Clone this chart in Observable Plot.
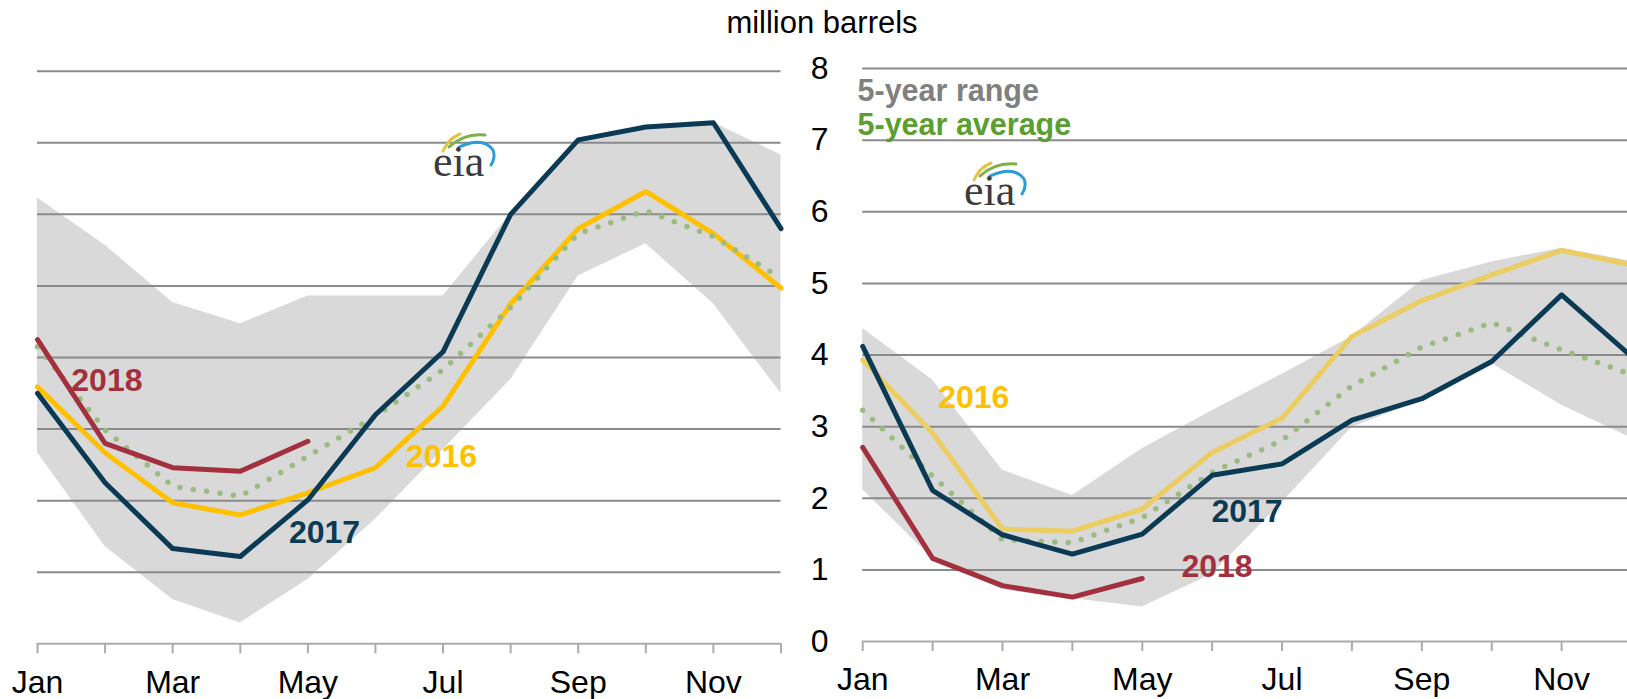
<!DOCTYPE html>
<html><head><meta charset="utf-8">
<script src="https://cdn.jsdelivr.net/npm/d3@7"></script>
<script src="https://cdn.jsdelivr.net/npm/@observablehq/plot@0.6"></script>
<style>
html,body{margin:0;padding:0;background:#fff;overflow:hidden;}
#root{position:relative;width:1627px;height:699px;overflow:hidden;font-family:"Liberation Sans",Arial,sans-serif;}
.abs{position:absolute;}
#unit{position:absolute;left:722px;width:200px;top:7px;text-align:center;font-size:31px;line-height:31px;color:#000;white-space:nowrap;}
</style></head><body><div id="root"><div id="unit">million barrels</div></div>
<script>
// ---- data ----
const months = ["Jan","Feb","Mar","Apr","May","Jun","Jul","Aug","Sep","Oct","Nov","Dec"];
const yTicks = [0,1,2,3,4,5,6,7,8];
const gridValues = [1,2,3,4,5,6,7,8];

// left panel
const left2016 = [3.59, 2.67, 1.97, 1.80, 2.11, 2.46, 3.32, 4.75, 5.80, 6.32, 5.73, 4.97];
const left2017 = [3.50, 2.25, 1.33, 1.22, 2.01, 3.20, 4.08, 6.00, 7.04, 7.22, 7.28, 5.80];
const left2018 = [4.25, 2.80, 2.46, 2.41, 2.83];
const leftAvg  = [4.15, 2.99, 2.20, 2.06, 2.62, 3.18, 3.83, 4.70, 5.73, 6.05, 5.69, 5.11];
const leftMax  = [6.23, 5.57, 4.77, 4.47, 4.86, 4.86, 4.86, 6.01, 7.04, 7.22, 7.28, 6.83];
const leftMin  = [2.67, 1.36, 0.62, 0.29, 0.90, 1.74, 2.71, 3.69, 5.14, 5.59, 4.75, 3.50];

// right panel
const right2016 = [3.93, 2.91, 1.57, 1.54, 1.85, 2.64, 3.12, 4.26, 4.76, 5.12, 5.46, 5.26];
const right2017 = [4.12, 2.11, 1.49, 1.22, 1.50, 2.32, 2.48, 3.09, 3.39, 3.91, 4.84, 3.98];
const right2018 = [2.71, 1.16, 0.78, 0.62, 0.88];
const rightAvg  = [3.23, 2.31, 1.42, 1.38, 1.73, 2.36, 2.81, 3.57, 4.11, 4.45, 4.07, 3.73];
const rightMax  = [4.37, 3.65, 2.39, 2.04, 2.69, 3.22, 3.73, 4.26, 5.04, 5.30, 5.49, 5.31];
const rightMin  = [2.12, 1.16, 0.72, 0.60, 0.48, 0.94, 1.94, 2.99, 3.36, 3.88, 3.30, 2.84];

// annotation labels (month index, value)
const leftLabels = [
  {m: 0.50, v: 3.68, text: "2018", color: "#a3303e"},
  {m: 5.45, v: 2.62, text: "2016", color: "#ffc000"},
  {m: 3.72, v: 1.55, text: "2017", color: "#0b3a55"}
];
const rightLabels = [
  {m: 1.08, v: 3.41, text: "2016", color: "#ffc000"},
  {m: 4.99, v: 1.81, text: "2017", color: "#0b3a55"},
  {m: 4.56, v: 1.04, text: "2018", color: "#a3303e"}
];
const legendLabels = [
  {m: -0.074, v: 7.68, text: "5-year range", color: "#808080"},
  {m: -0.074, v: 7.21, text: "5-year average", color: "#5c9e31"}
];

// ---- drawing ----
const C = {navy:"#0b3a55", gold:"#ffc000", goldLight:"#ebcd62", red:"#a3303e", avg:"#9cbb80",
           range:"#d9d9d9", grid:"#8a8a8a", axis:"#ababab"};
const rows = vals => vals.map((v, i) => ({m: i, v}));
const rangeRows = (lo, hi) => lo.map((l, i) => ({m: i, lo: l, hi: hi[i]}));

function panel({width, xRange, yRange, marginLeft, lo, hi, avg, s16, s17, s18, gold16, labels, legend, showY}) {
  const marks = [
    Plot.areaY(rangeRows(lo, hi), {x: "m", y1: "lo", y2: "hi", fill: C.range}),
    Plot.ruleY(gridValues, {y: d => d, x1: 0, x2: 11, stroke: C.grid, strokeWidth: 2}),
    Plot.ruleY([0], {y: d => d, x1: 0, x2: 11, stroke: C.axis, strokeWidth: 2}),
    Plot.axisX(d3.range(12), {anchor: "bottom", tickSize: 10, tickPadding: 16, stroke: C.axis, strokeWidth: 2,
      fill: "#000", fontSize: 32, tickFormat: i => (i % 2 === 0 ? months[i] : ""), label: null}),
    Plot.line(rows(s16), {x: "m", y: "v", stroke: gold16, strokeWidth: 5}),
    Plot.line(rows(avg), {x: "m", y: "v", stroke: C.avg, strokeWidth: 5.5, strokeDasharray: "0 13.5", strokeLinecap: "round"}),
    Plot.line(rows(s17), {x: "m", y: "v", stroke: C.navy, strokeWidth: 5}),
    Plot.line(rows(s18), {x: "m", y: "v", stroke: C.red, strokeWidth: 5, strokeLinecap: "round"}),
    Plot.text(labels, {x: "m", y: "v", text: "text", fill: d => d.color, textAnchor: "start", lineAnchor: "middle",
      fontSize: 32, fontWeight: "bold"})
  ];
  if (legend) marks.push(Plot.text(legend, {x: "m", y: "v", text: "text", fill: d => d.color, textAnchor: "start",
      lineAnchor: "middle", fontSize: 30.5, fontWeight: "bold"}));
  if (showY) marks.push(Plot.axisY(yTicks, {anchor: "left", tickSize: 0, tickPadding: 34, fill: "#000", fontSize: 32,
    tickFormat: d => String(d), label: null}));
  return Plot.plot({
    width, height: 699, marginLeft, marginRight: 0, marginTop: 0, marginBottom: 699 - yRange[0],
    x: {type: "linear", domain: [0, 11], range: xRange, label: null, axis: null},
    y: {type: "linear", domain: [0, 8], range: yRange, label: null, axis: null},
    color: {type: "identity"},
    style: {background: "transparent", fontFamily: "Liberation Sans, Arial, sans-serif", fontSize: "31px",
            overflow: "hidden", maxWidth: "none", color: "#000"},
    marks
  });
}

const root = document.getElementById("root");

const leftChart = panel({width: 790, xRange: [37, 780.5], yRange: [643.3, 70.7], marginLeft: 37,
  lo: leftMin, hi: leftMax, avg: leftAvg, s16: left2016, s17: left2017, s18: left2018,
  gold16: C.gold, labels: leftLabels, legend: null, showY: false});
leftChart.classList.add("abs"); leftChart.style.left = "0px"; leftChart.style.top = "0px";
root.appendChild(leftChart);

const rightChart = panel({width: 837, xRange: [72.2, 841], yRange: [641, 68], marginLeft: 72,
  lo: rightMin, hi: rightMax, avg: rightAvg, s16: right2016, s17: right2017, s18: right2018,
  gold16: C.goldLight, labels: rightLabels, legend: legendLabels, showY: true});
rightChart.classList.add("abs"); rightChart.style.left = "790px"; rightChart.style.top = "0px";
root.appendChild(rightChart);

// eia logo (decorative)
function logo(x, y) {
  const d = document.createElement("div");
  d.innerHTML = `<svg class="abs" style="left:${x}px;top:${y}px" width="84" height="62" viewBox="0 0 84 62">
    <path d="M14,27 Q19,15 31,10" stroke="#e3c54c" stroke-width="3" fill="none" stroke-linecap="round"/>
    <path d="M20,23 Q35,9 56,11" stroke="#7fb04a" stroke-width="3" fill="none" stroke-linecap="round"/>
    <path d="M30,23 Q54,12 64,26 Q67,33 62,41" stroke="#2c9cd6" stroke-width="3" fill="none" stroke-linecap="round"/>
    <text x="4" y="52" font-family="Liberation Serif, DejaVu Serif, serif" font-size="44" fill="#3b3b3b">eia</text>
  </svg>`;
  root.appendChild(d.firstElementChild);
}
logo(429, 124);
logo(960, 153);
</script>
</body></html>
